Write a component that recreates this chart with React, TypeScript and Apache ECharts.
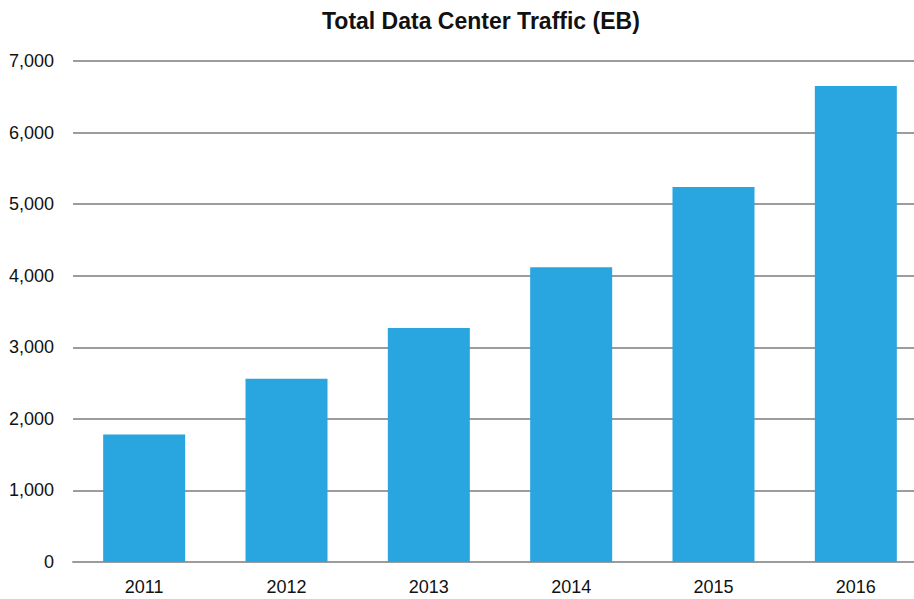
import React, { useEffect, useRef } from "react";
import * as echarts from "echarts";

const categories = ["2011", "2012", "2013", "2014", "2015", "2016"];
const trafficEB = [1780, 2560, 3270, 4120, 5240, 6650];
const chartTitle = "Total Data Center Traffic (EB)";

const FONT = "'Liberation Sans', Arial, sans-serif";

export default function App() {
  const ref = useRef<HTMLDivElement>(null);
  useEffect(() => {
    if (!ref.current) return;
    const chart = echarts.init(ref.current, undefined, { renderer: "svg" });
    chart.setOption({
      animation: false,
      backgroundColor: "#ffffff",
      title: {
        text: chartTitle,
        left: 317,
        top: 4,
        textStyle: {
          fontFamily: FONT,
          fontSize: 23,
          fontWeight: "bold",
          color: "#111111",
        },
      },
      grid: { left: 73, top: 61, width: 854, height: 501, containLabel: false },
      xAxis: {
        type: "category",
        data: categories,
        axisTick: { show: false },
        axisLine: { lineStyle: { color: "#9c9c9c", width: 2 } },
        axisLabel: {
          fontFamily: FONT,
          fontSize: 18,
          color: "#111111",
          margin: 16,
        },
      },
      yAxis: {
        type: "value",
        min: 0,
        max: 7000,
        interval: 1000,
        axisLine: { show: false },
        axisTick: { show: false },
        splitLine: { lineStyle: { color: "#9c9c9c", width: 2 } },
        axisLabel: {
          fontFamily: FONT,
          fontSize: 18,
          color: "#111111",
          margin: 19,
          formatter: (v: number) => v.toLocaleString("en-US"),
        },
      },
      series: [
        {
          type: "bar",
          data: trafficEB,
          barWidth: 82,
          itemStyle: { color: "#29A6DF" },
        },
      ],
    });
    return () => chart.dispose();
  }, []);
  return (
    <div
      style={{
        position: "absolute",
        left: 0,
        top: 0,
        width: 914,
        height: 599,
        overflow: "hidden",
        background: "#ffffff",
      }}
    >
      <div ref={ref} style={{ width: 930, height: 599 }} />
    </div>
  );
}
